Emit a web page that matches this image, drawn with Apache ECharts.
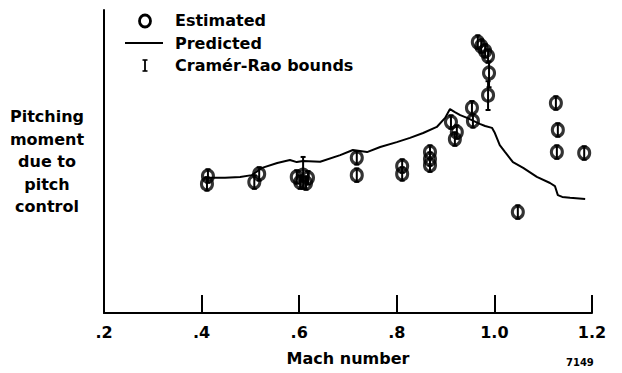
<!DOCTYPE html>
<html>
<head>
<meta charset="utf-8">
<style>
  html, body { margin: 0; padding: 0; background: #fff; }
  #chart { width: 622px; height: 373px; }
</style>
<script src="https://cdn.jsdelivr.net/npm/echarts@6/dist/echarts.min.js"></script>
</head>
<body>
<div id="chart"></div>
<script>
// Mach-number tick labels, written the way the axis prints them
const tickLabels = ['.2', '.4', '.6', '.8', '1.0', '1.2'];

// Predicted pitching moment (arbitrary units) against Mach number
const predMach = [0.405, 0.423, 0.448, 0.479, 0.503, 0.524, 0.555, 0.581, 0.595, 0.608,
                  0.643, 0.684, 0.710, 0.739, 0.766, 0.800, 0.827, 0.854, 0.882, 0.899,
                  0.909, 0.919, 0.930, 0.944, 0.970, 0.981, 0.995, 1.001, 1.011, 1.022,
                  1.038, 1.059, 1.087, 1.114, 1.124, 1.130, 1.139, 1.155, 1.186];
const predValue = [44.6, 44.6, 44.6, 44.9, 45.5, 47.9, 49.5, 50.5, 49.8, 50.2,
                   49.9, 52.1, 53.8, 53.1, 54.8, 56.4, 57.8, 59.4, 61.4, 64.4,
                   67.3, 66.3, 65.3, 64.4, 62.4, 61.7, 61.1, 59.4, 55.4, 53.1,
                   49.8, 47.9, 44.9, 42.9, 41.9, 38.9, 38.3, 38.0, 37.6];

// Flight estimates with their Cramér-Rao bounds
const estMach = [0.413, 0.411, 0.518, 0.508, 0.595, 0.608, 0.618, 0.602, 0.614,
                 0.718, 0.718, 0.811, 0.811, 0.868, 0.868, 0.868, 0.911, 0.923, 0.919,
                 0.954, 0.956, 0.966, 0.973, 0.981, 0.987, 0.989, 0.987, 1.048,
                 1.126, 1.130, 1.128, 1.184];
const estValue = [45.2, 42.6, 45.9, 43.2, 44.9, 45.5, 44.6, 43.2, 42.9,
                  51.2, 45.5, 48.5, 45.9, 53.1, 50.8, 48.8, 63.0, 59.7, 57.4,
                  67.7, 63.4, 89.4, 88.1, 86.5, 84.8, 79.2, 71.9, 33.3,
                  69.3, 60.4, 53.1, 52.8];
const boundLow = [43.0, 40.4, 43.7, 41.0, 42.7, 41.0, 42.4, 41.0, 40.7,
                  49.0, 43.3, 46.3, 43.7, 50.9, 48.6, 46.6, 60.8, 57.5, 55.2,
                  65.5, 61.2, 87.2, 85.9, 84.3, 82.6, 74.5, 67.0, 31.1,
                  67.1, 58.2, 50.9, 50.6];
const boundHigh = [47.4, 44.8, 48.1, 45.4, 47.1, 51.5, 46.8, 45.4, 45.1,
                   53.4, 47.7, 50.7, 48.1, 55.3, 53.0, 51.0, 65.2, 61.9, 59.6,
                   69.9, 65.6, 91.6, 90.3, 88.7, 87.0, 83.0, 76.5, 35.5,
                   71.5, 62.6, 55.3, 55.0];

const FONT = 'DejaVu Sans';
const INK = '#000';

const predData = predMach.map((m, i) => [m, predValue[i]]);
const estData = estMach.map((m, i) => [m, estValue[i]]);
const boundData = estMach.map((m, i) => [m, boundLow[i], boundHigh[i]]);

const chart = echarts.init(document.getElementById('chart'), null, { renderer: 'svg' });

chart.setOption({
  animation: false,
  backgroundColor: '#fff',
  grid: { left: 104, right: 30, top: 10, bottom: 60, containLabel: false },
  xAxis: {
    type: 'value',
    min: 0.2, max: 1.2, interval: 0.2,
    axisLine: { onZero: false, lineStyle: { color: INK, width: 2 } },
    axisTick: { inside: true, length: 18, lineStyle: { color: INK, width: 2 } },
    axisLabel: {
      color: INK, fontFamily: FONT, fontWeight: 'bold', fontSize: 16, margin: 11,
      formatter: v => tickLabels[Math.round((v - 0.2) / 0.2)]
    },
    splitLine: { show: false },
    name: 'Mach number',
    nameLocation: 'middle',
    nameGap: 37,
    nameTextStyle: { color: INK, fontFamily: FONT, fontWeight: 'bold', fontSize: 16 }
  },
  yAxis: {
    type: 'value',
    min: 0, max: 100,
    axisLine: { show: true, lineStyle: { color: INK, width: 2 } },
    axisTick: { show: false },
    axisLabel: { show: false },
    splitLine: { show: false },
    name: 'Pitching\nmoment\ndue to\npitch\ncontrol',
    nameLocation: 'middle',
    nameRotate: 0,
    nameGap: 57,
    nameTextStyle: {
      color: INK, fontFamily: FONT, fontWeight: 'bold', fontSize: 16,
      lineHeight: 22.5, align: 'center', verticalAlign: 'middle',
      padding: [6, 0, 0, 0]
    }
  },
  series: [
    {
      name: 'Predicted',
      type: 'line',
      data: predData,
      symbol: 'none',
      lineStyle: { color: INK, width: 2 },
      z: 2
    },
    {
      name: 'Cramér-Rao bounds',
      type: 'custom',
      data: boundData,
      z: 3,
      renderItem: function (params, api) {
        const x = api.value(0);
        const lo = api.coord([x, api.value(1)]);
        const hi = api.coord([x, api.value(2)]);
        const cap = 2.5;
        return {
          type: 'group',
          children: [
            { type: 'line', shape: { x1: lo[0], y1: lo[1], x2: hi[0], y2: hi[1] },
              style: { stroke: INK, lineWidth: 2 } },
            { type: 'line', shape: { x1: lo[0] - cap, y1: lo[1], x2: lo[0] + cap, y2: lo[1] },
              style: { stroke: INK, lineWidth: 2 } },
            { type: 'line', shape: { x1: hi[0] - cap, y1: hi[1], x2: hi[0] + cap, y2: hi[1] },
              style: { stroke: INK, lineWidth: 2 } }
          ]
        };
      }
    },
    {
      name: 'Estimated',
      type: 'scatter',
      data: estData,
      symbol: 'circle',
      symbolSize: [11, 12],
      itemStyle: { color: 'rgba(0,0,0,0)', borderColor: INK, borderWidth: 3.2 },
      z: 4
    }
  ],
  graphic: [
    // key: open circle, solid line, bound marker
    { type: 'ellipse', shape: { cx: 145, cy: 21, rx: 5.5, ry: 6 },
      style: { fill: 'none', stroke: INK, lineWidth: 2.8 } },
    { type: 'line', shape: { x1: 125, y1: 43, x2: 163, y2: 43 },
      style: { stroke: INK, lineWidth: 2 } },
    { type: 'group', children: [
      { type: 'line', shape: { x1: 145, y1: 60, x2: 145, y2: 71 }, style: { stroke: INK, lineWidth: 1.8 } },
      { type: 'line', shape: { x1: 142.5, y1: 60, x2: 147.5, y2: 60 }, style: { stroke: INK, lineWidth: 1.6 } },
      { type: 'line', shape: { x1: 142.5, y1: 71, x2: 147.5, y2: 71 }, style: { stroke: INK, lineWidth: 1.6 } }
    ]},
    { type: 'text', left: 175, top: 12,
      style: { text: 'Estimated', fill: INK, font: 'bold 16px "DejaVu Sans"' } },
    { type: 'text', left: 175, top: 35,
      style: { text: 'Predicted', fill: INK, font: 'bold 16px "DejaVu Sans"' } },
    { type: 'text', left: 175, top: 57,
      style: { text: 'Cramér-Rao bounds', fill: INK, font: 'bold 16px "DejaVu Sans"' } },
    { type: 'text', left: 566, top: 357,
      style: { text: '7149', fill: INK, font: 'bold 10px "DejaVu Sans"' } }
  ]
});
</script>
</body>
</html>
